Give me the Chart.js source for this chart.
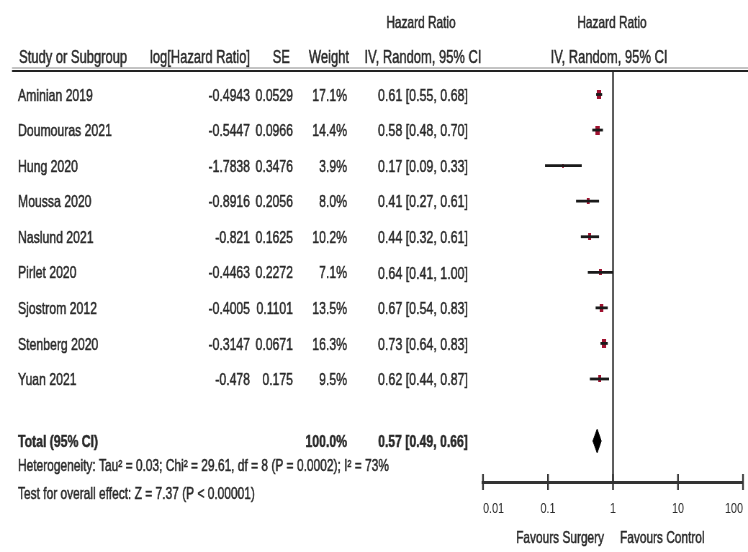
<!DOCTYPE html>
<html>
<head>
<meta charset="utf-8">
<script src="https://cdn.jsdelivr.net/npm/chart.js@4.4.1/dist/chart.umd.min.js"></script>
<style>
  html, body { margin: 0; padding: 0; background: #fff; overflow: hidden; }
  /* the whole figure is set in a condensed style: draw wide, squeeze horizontally */
  #wrap { width: 1039px; height: 552px; transform: scaleX(0.71992); transform-origin: 0 0; }
  canvas { display: block; }
</style>
</head>
<body>
<div id="wrap"><canvas id="forest" width="1039" height="552" style="width:1039px;height:552px"></canvas></div>
<script>
// ---- data ----
const studies  = ['Aminian 2019', 'Doumouras 2021', 'Hung 2020', 'Moussa 2020', 'Naslund 2021',
                  'Pirlet 2020', 'Sjostrom 2012', 'Stenberg 2020', 'Yuan 2021'];
const logHR    = [-0.4943, -0.5447, -1.7838, -0.8916, -0.821, -0.4463, -0.4005, -0.3147, -0.478];
const seLogHR  = [0.0529, 0.0966, 0.3476, 0.2056, 0.1625, 0.2272, 0.1101, 0.0671, 0.175];
const weights  = [17.1, 14.4, 3.9, 8.0, 10.2, 7.1, 13.5, 16.3, 9.5];
const hr       = [0.61, 0.58, 0.17, 0.41, 0.44, 0.64, 0.67, 0.73, 0.62];
const ciLow    = [0.55, 0.48, 0.09, 0.27, 0.32, 0.41, 0.54, 0.64, 0.44];
const ciHigh   = [0.68, 0.70, 0.33, 0.61, 0.61, 1.00, 0.83, 0.83, 0.87];
const totalWeight = 100.0;
const totalHR     = 0.57;
const totalLow    = 0.49;
const totalHigh   = 0.66;
const tickValues  = [0.01, 0.1, 1, 10, 100];
const tickLabels  = ['0.01', '0.1', '1', '10', '100'];
const heterogeneityText = 'Heterogeneity: Tau\u00B2 = 0.03; Chi\u00B2 = 29.61, df = 8 (P = 0.0002); I\u00B2 = 73%';
const overallEffectText = 'Test for overall effect: Z = 7.37 (P < 0.00001)';
const favoursLeft  = 'Favours Surgery';
const favoursRight = 'Favours Control';

// ---- layout ----
const SX = 748 / 1039;            // horizontal squeeze applied by CSS
const X = px => px / SX;          // page x -> canvas x
const PLOT_TOP = 72, PLOT_BOTTOM = 482;
const FIRST_ROW = 94.5, ROW_GAP = 35.56;
const Y_MIN = -(FIRST_ROW - PLOT_TOP) / ROW_GAP;
const Y_MAX = Y_MIN + (PLOT_BOTTOM - PLOT_TOP) / ROW_GAP;
const TOTAL_ROW = Y_MIN + (441 - PLOT_TOP) / ROW_GAP;
const DIAMOND_HALF = 12 / ROW_GAP;
const FONT = '"Liberation Sans", Arial, sans-serif';
const TEXT = '#2a2a2a';
const BOX_COLOR = 'rgb(160, 18, 48)';

function put(ctx, s, x, y, align, size, bold) {
  ctx.font = (bold ? 'bold ' : '') + size + 'px ' + FONT;
  ctx.textAlign = align;
  ctx.textBaseline = 'alphabetic';
  ctx.fillStyle = TEXT;
  ctx.strokeStyle = TEXT;
  ctx.lineWidth = 0.5;
  ctx.fillText(s, X(x), y + size * 0.36);
  ctx.strokeText(s, X(x), y + size * 0.36);
}

// weight boxes: area grows with the study weight
function weightBox(w) {
  const h = Math.max(3, Math.round(2.25 * Math.sqrt(w)));
  const c = document.createElement('canvas');
  c.width = Math.max(2, Math.round(h * 0.62));
  c.height = h;
  const g = c.getContext('2d');
  g.fillStyle = BOX_COLOR;
  g.fillRect(0, 0, c.width, c.height);
  return c;
}

// table text, header rules, axis tick marks and captions
const forestTable = {
  id: 'forestTable',
  afterDraw(chart) {
    const ctx = chart.ctx;
    const ys = chart.scales.y, xs = chart.scales.x;
    ctx.save();

    // header
    put(ctx, 'Hazard Ratio', 421, 22, 'center', 16.5);
    put(ctx, 'Hazard Ratio', 612, 22, 'center', 16.5);
    put(ctx, 'Study or Subgroup', 19, 57, 'left', 18);
    put(ctx, 'log[Hazard Ratio]', 250, 57, 'right', 18);
    put(ctx, 'SE', 290, 57, 'right', 18);
    put(ctx, 'Weight', 349, 57, 'right', 18);
    put(ctx, 'IV, Random, 95% CI', 423, 57, 'center', 18);
    put(ctx, 'IV, Random, 95% CI', 609, 57, 'center', 18);

    // header rules
    ctx.strokeStyle = '#888';
    ctx.lineWidth = 1;
    ctx.beginPath(); ctx.moveTo(X(12), 68); ctx.lineTo(X(748), 68); ctx.stroke();
    ctx.strokeStyle = '#222';
    ctx.lineWidth = 2.2;
    ctx.beginPath(); ctx.moveTo(X(12), 71); ctx.lineTo(X(748), 71); ctx.stroke();

    // study rows
    studies.forEach((name, i) => {
      const y = ys.getPixelForValue(i);
      put(ctx, name, 18, y, 'left', 17);
      put(ctx, String(logHR[i]), 250, y, 'right', 17);
      put(ctx, String(seLogHR[i]), 293, y, 'right', 17);
      put(ctx, weights[i].toFixed(1) + '%', 347, y, 'right', 17);
      put(ctx, hr[i].toFixed(2) + ' [' + ciLow[i].toFixed(2) + ', ' + ciHigh[i].toFixed(2) + ']', 423, y, 'center', 17.3);
    });

    // total row
    const yt = ys.getPixelForValue(TOTAL_ROW);
    put(ctx, 'Total (95% CI)', 18, yt, 'left', 17, true);
    put(ctx, totalWeight.toFixed(1) + '%', 347, yt, 'right', 17, true);
    put(ctx, totalHR.toFixed(2) + ' [' + totalLow.toFixed(2) + ', ' + totalHigh.toFixed(2) + ']', 423, yt, 'center', 17, true);

    put(ctx, heterogeneityText, 18, 465, 'left', 16.6);
    put(ctx, overallEffectText, 18, 493, 'left', 16.6);

    // tick marks crossing the axis
    const axisY = xs.top;
    ctx.strokeStyle = '#333';
    ctx.lineWidth = 2.4;
    tickValues.forEach(v => {
      const x = xs.getPixelForValue(v);
      ctx.beginPath(); ctx.moveTo(x, axisY - 8); ctx.lineTo(x, axisY + 8); ctx.stroke();
    });

    // captions under the axis
    put(ctx, favoursLeft, 604, 537, 'right', 16.5);
    put(ctx, favoursRight, 620, 537, 'left', 16.5);
    ctx.restore();
  }
};

// ---- datasets ----
const ciDatasets = studies.map((_, i) => ({
  type: 'line',
  data: [{ x: ciLow[i], y: i }, { x: ciHigh[i], y: i }],
  borderColor: '#1a1a1a',
  borderWidth: 2.8,
  pointRadius: 0,
  fill: false
}));

const markers = {
  type: 'scatter',
  data: studies.map((_, i) => ({ x: hr[i], y: i })),
  pointStyle: weights.map(weightBox),
  pointRadius: 5,
  backgroundColor: BOX_COLOR,
  borderWidth: 0
};

const diamond = {
  type: 'line',
  data: [
    { x: totalLow, y: TOTAL_ROW },
    { x: totalHR, y: TOTAL_ROW - DIAMOND_HALF },
    { x: totalHigh, y: TOTAL_ROW },
    { x: totalHR, y: TOTAL_ROW + DIAMOND_HALF },
    { x: totalLow, y: TOTAL_ROW }
  ],
  borderColor: '#000',
  backgroundColor: '#000',
  borderWidth: 1,
  pointRadius: 0,
  fill: 'shape'
};

const noEffectLine = {
  type: 'line',
  data: [{ x: 1, y: Y_MIN }, { x: 1, y: Y_MAX }],
  borderColor: '#222',
  borderWidth: 2.2,
  pointRadius: 0,
  fill: false
};

new Chart(document.getElementById('forest'), {
  type: 'scatter',
  data: {
    // earlier entries are painted last, so the CI lines sit over the boxes
    datasets: [...ciDatasets, markers, diamond, noEffectLine]
  },
  options: {
    responsive: false,
    animation: false,
    events: [],
    devicePixelRatio: 1,
    layout: { padding: { left: X(483), right: 1039 - X(743), top: PLOT_TOP, bottom: 0 } },
    plugins: { legend: { display: false }, tooltip: { enabled: false } },
    scales: {
      x: {
        type: 'logarithmic',
        min: 0.01,
        max: 100,
        afterBuildTicks: s => { s.ticks = tickValues.map(v => ({ value: v })); },
        afterFit: s => { s.height = 552 - PLOT_BOTTOM; s.paddingLeft = 0; s.paddingRight = 0; },
        ticks: {
          autoSkip: false,
          maxRotation: 0,
          align: 'inner',
          padding: 18,
          color: '#2a2a2a',
          font: { family: FONT, size: 15 },
          callback: (v, i) => tickLabels[i]
        },
        grid: { display: false, drawTicks: false },
        border: { display: true, color: '#333', width: 3 }
      },
      y: {
        type: 'linear',
        display: false,
        reverse: true,
        min: Y_MIN,
        max: Y_MAX
      }
    }
  },
  plugins: [forestTable]
});
</script>
</body>
</html>
